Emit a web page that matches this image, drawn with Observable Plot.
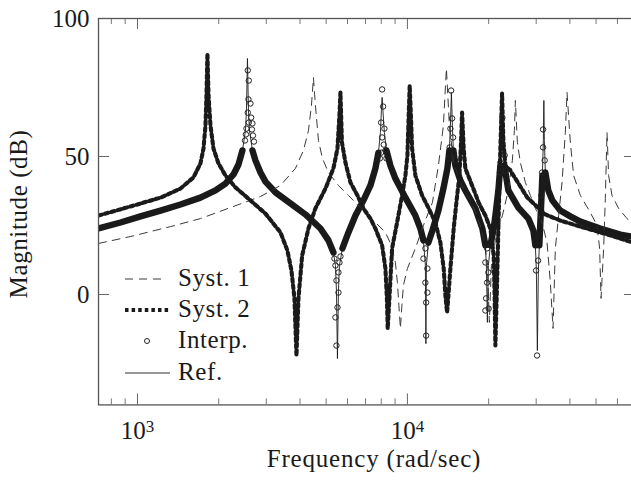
<!DOCTYPE html>
<html><head><meta charset="utf-8">
<script src="https://cdn.jsdelivr.net/npm/d3@7"></script>
<script src="https://cdn.jsdelivr.net/npm/@observablehq/plot@0.6"></script>
<style>
html,body{margin:0;padding:0;background:#fff;overflow:hidden;width:631px;height:480px;}
#chart{position:relative;width:631px;height:480px;overflow:hidden;}
#chart svg{max-width:none !important;}
#legend{position:absolute;left:0;top:0;pointer-events:none;}
svg text{font-family:"Liberation Serif","DejaVu Serif","Times New Roman",Tinos,serif !important;}
</style></head><body><div id="chart"></div>
<script>
// ---- data: [frequency (rad/sec), magnitude (dB)] ----
const refCurve = [[717,23.9],[865,26.1],[1026,28.3],[1217,30.4],[1443,32.6],[1711,35.1],[1945,37.7],[2118,40.2],[2268,43.5],[2367,47.1],[2448,52.2],[2512,59.4],[2533,66.7],[2555,85.5],[2577,66.7],[2599,59.4],[2666,52.2],[2735,48.6],[2855,44.2],[2979,40.9],[3244,37.0],[3687,33.0],[4190,29.0],[4763,23.9],[5099,19.6],[5321,15.2],[5412,10.5],[5459,1.4],[5506,-23.2],[5553,1.4],[5600,10.5],[5745,16.7],[6047,22.5],[6420,28.6],[6873,34.1],[7295,39.5],[7612,45.7],[7810,51.4],[7943,58.7],[8011,66.7],[8060,71.4],[8115,66.7],[8219,58.7],[8361,52.2],[8650,46.7],[9027,42.0],[9831,35.1],[10706,28.6],[11171,23.9],[11463,19.6],[11659,10.5],[11709,-17.8],[11759,10.5],[11962,18.8],[12377,23.2],[13027,30.4],[13595,38.4],[14066,45.7],[14308,52.2],[14431,61.2],[14554,73.2],[14678,61.2],[14804,52.2],[15058,46.7],[15714,41.3],[16397,37.7],[17858,31.2],[18957,23.9],[19449,17.8],[19616,10.5],[19783,-10.1],[19953,10.5],[20296,17.8],[20823,23.2],[21181,28.6],[21729,37.7],[22103,46.7],[22292,55.8],[22483,66.7],[22676,55.8],[22870,46.7],[23664,37.7],[25770,31.5],[28064,27.5],[29286,23.2],[29790,17.8],[30046,8.7],[30304,-20.3],[30563,8.7],[30823,17.8],[31085,26.1],[31352,34.1],[31623,43.1],[31894,55.8],[32030,70.3],[32167,55.8],[32443,44.2],[33281,37.7],[34437,34.1],[36864,30.4],[40149,28.3],[43725,26.4],[51856,23.9],[61482,21.7],[69900,20.7]];

const syst1Curve = [[717,18.5],[942,21.0],[1325,24.6],[1711,27.5],[2210,31.5],[2855,35.5],[3386,39.5],[3848,45.7],[4120,52.2],[4299,59.4],[4411,68.5],[4486,78.6],[4563,68.5],[4682,55.8],[4845,49.3],[5099,44.2],[5553,39.5],[6047,35.9],[6586,32.2],[6991,29.7],[7612,26.1],[8290,22.5],[8724,17.8],[9027,11.6],[9183,4.3],[9300,-4.0],[9421,-12.3],[9541,-4.0],[9664,3.3],[10000,9.4],[10706,16.7],[11463,25.0],[12377,33.3],[13027,46.7],[13595,61.2],[13946,81.9],[14308,61.2],[14804,48.6],[15714,40.6],[17113,34.1],[18321,27.5],[19284,19.6],[19783,10.5],[20124,-10.1],[20471,10.5],[21181,19.6],[22483,28.6],[23664,37.7],[24484,48.6],[24910,59.4],[25119,70.3],[25551,55.1],[26213,47.8],[27355,40.6],[28547,35.9],[29790,31.2],[31543,26.1],[32914,18.8],[33854,4.3],[34642,-12.3],[35325,16.7],[36337,28.6],[37400,40.6],[38471,58.7],[39032,73.2],[40149,55.1],[41299,43.1],[43725,35.9],[47616,29.7],[50414,25.0],[51543,16.7],[52167,-1.4],[53337,16.7],[54117,34.8],[54902,58.7],[55656,43.1],[57293,35.9],[60603,31.2],[65106,27.5],[69900,25.0]];

const syst2Curve = [[717,28.6],[942,31.9],[1217,35.1],[1443,38.4],[1612,42.4],[1711,47.5],[1756,52.9],[1786,61.2],[1801,72.1],[1816,87.3],[1833,72.1],[1864,61.2],[1912,52.9],[1995,47.5],[2118,43.1],[2307,38.8],[2621,34.1],[2979,29.3],[3386,22.5],[3594,15.9],[3719,8.7],[3815,-1.4],[3881,-22.1],[3948,-1.4],[4074,14.1],[4299,23.9],[4563,31.2],[4970,38.4],[5321,45.7],[5506,52.9],[5600,64.9],[5648,73.2],[5721,55.1],[5894,47.8],[6151,40.6],[6530,35.9],[6873,31.2],[7295,27.5],[7612,23.9],[8060,17.8],[8290,9.4],[8396,-1.4],[8454,-12.3],[8577,-1.4],[8776,16.7],[9158,26.1],[9558,35.9],[9831,43.1],[10000,50.4],[10111,64.9],[10198,75.7],[10303,64.9],[10409,52.9],[10706,43.1],[11336,35.9],[11993,31.2],[12698,26.1],[13251,18.8],[13630,9.4],[13828,-0.4],[14030,-6.5],[14187,-0.4],[14431,9.4],[14842,23.9],[15188,33.3],[15582,43.1],[15783,54.0],[15945,65.9],[16164,52.9],[16397,45.7],[17363,39.5],[18368,33.3],[19449,28.6],[20296,23.9],[20878,14.1],[21057,-1.4],[21181,-18.5],[21489,4.3],[21784,28.6],[22103,52.9],[22425,72.8],[22676,55.8],[23066,46.7],[24071,44.9],[27826,35.1],[32443,29.0],[36864,26.8],[43725,24.6],[51856,22.5],[61482,20.3],[69900,18.5]];

const interpPoints = [[2562,81.2],[2584,77.5],[2577,70.7],[2621,69.2],[2562,65.9],[2637,64.1],[2584,62.3],[2666,62.0],[2533,60.1],[2655,59.8],[2522,58.0],[2678,57.6],[2502,55.8],[2701,55.4],
 [5459,-18.5],[5412,-8.3],[5506,-4.7],[5553,0.7],[5459,5.1],[5553,8.0],[5412,10.5],[5600,11.6],[5366,13.0],[5648,13.8],
 [8060,74.3],[8128,68.1],[7991,62.3],[8219,60.1],[8060,56.9],[8170,54.3],[7991,51.4],[8290,52.2],[7910,49.3],[8361,49.3],
 [11730,-14.9],[11730,-2.9],[11860,0.7],[11659,4.3],[11860,9.4],[11463,13.0],[11659,16.7],
 [14517,73.9],[14640,63.8],[14431,60.1],[14766,56.9],[14345,53.3],[14842,51.1],[14248,49.3],[14995,48.6],
 [19733,16.7],[19449,11.6],[19953,8.0],[19733,4.3],[19566,-1.4],[20005,-5.1],[19449,-5.8],
 [22483,64.1],[22425,55.1],[22929,50.4],[22103,47.8],[23066,44.9],[22009,44.2],
 [30226,-22.1],[29970,8.7],[30485,12.3],
 [31812,59.8],[31812,53.3],[32249,48.6],[31543,44.2],[32249,41.3],[31352,35.9]];

const xMajorTicks = [1000, 10000];
const xMinorTicks = [800, 900, 2000, 3000, 4000, 5000, 6000, 7000, 8000, 9000, 20000, 30000, 40000, 50000, 60000];
const yTicks = [0, 50, 100];
const legendLabels = ["Syst. 1", "Syst. 2", "Interp.", "Ref."];
const xLabel = "Frequency (rad/sec)";
const yLabel = "Magnitude (dB)";

// ---- build ----
const toRows = a => a.map(([f, db]) => ({f, db}));
const ref = toRows(refCurve), syst1 = toRows(syst1Curve), syst2 = toRows(syst2Curve), interp = toRows(interpPoints);

const W = 640, H = 480, mL = 98, mR = 5, mT = 18, mB = 75.6;
const innerW = W - mL - mR, innerH = H - mT - mB;
const FONT = "'Liberation Serif', 'DejaVu Serif', serif";
const INK = "#1a1a1a";
const majorLen = 11, minorLen = 6;
const dotted = "3.5,3.1";

const chart = Plot.plot({
  width: W, height: H,
  marginLeft: mL, marginRight: mR, marginTop: mT, marginBottom: mB,
  style: {fontFamily: FONT, fontSize: "25px", color: INK, background: "white", maxWidth: "none"},
  x: {type: "log", domain: [717, 70000], label: null},
  y: {domain: [-40, 100], label: null},
  marks: [
    // interp band (dense circles merge into a thick band)
    Plot.line(ref, {x: "f", y: d => (d.db >= 13 && d.db <= 54) ? d.db : NaN, stroke: INK, strokeWidth: 6.4, strokeLinecap: "round", strokeLinejoin: "round", clip: true}),
    Plot.line(syst1, {x: "f", y: "db", stroke: "#3a3a3a", strokeWidth: 1, strokeDasharray: "8,6", clip: true}),
    Plot.line(syst2, {x: "f", y: "db", stroke: INK, strokeWidth: 4.1, strokeDasharray: dotted, clip: true}),
    Plot.line(ref, {x: "f", y: "db", stroke: INK, strokeWidth: 0.9, clip: true}),
    Plot.dot(interp, {x: "f", y: "db", r: 2.7, stroke: "#222", strokeWidth: 1, fill: "none", clip: true}),
    // inward ticks
    Plot.tickX(xMajorTicks, {x: d => d, insetTop: innerH - majorLen, stroke: "#666"}),
    Plot.tickX(xMajorTicks, {x: d => d, insetBottom: innerH - majorLen, stroke: "#666"}),
    Plot.tickX(xMinorTicks, {x: d => d, insetTop: innerH - minorLen, stroke: "#777"}),
    Plot.tickX(xMinorTicks, {x: d => d, insetBottom: innerH - minorLen, stroke: "#777"}),
    Plot.tickY(yTicks, {y: d => d, insetRight: innerW - majorLen, stroke: "#666"}),
    Plot.tickY(yTicks, {y: d => d, insetLeft: innerW - majorLen, stroke: "#666"}),
    Plot.frame({stroke: "#555", strokeWidth: 1.3}),
    Plot.axisX({ticks: xMajorTicks, label: null, tickSize: 0, tickPadding: 16, fontSize: 25, tickFormat: d => "10^" + Math.round(Math.log10(d))}),
    Plot.axisY({ticks: yTicks, label: null, tickSize: 0, tickPadding: 9, fontSize: 25})
  ]
});

// superscript exponents on the x tick labels
d3.select(chart).selectAll('g[aria-label="x-axis tick label"] text').each(function() {
  const t = d3.select(this);
  const [base, exp] = t.text().split("^");
  t.text(null);
  t.append("tspan").text(base);
  t.append("tspan").attr("dy", "-0.42em").attr("font-size", "17px").text(exp);
});

const holder = document.getElementById("chart");
holder.appendChild(chart);

// overlay: axis titles and legend
const lg = d3.select(holder).append("svg").attr("id", "legend").attr("width", 631).attr("height", 480);
lg.append("text").attr("x", 374).attr("y", 467).attr("text-anchor", "middle")
  .attr("font-size", 25).attr("letter-spacing", "0.8px").attr("fill", INK).text(xLabel);
lg.append("text").attr("transform", "translate(26.5,214) rotate(-90)").attr("text-anchor", "middle")
  .attr("font-size", 25).attr("letter-spacing", "0.6px").attr("fill", INK).text(yLabel);

const rowY = [279, 310, 341, 373];
lg.append("line").attr("x1", 125).attr("x2", 167).attr("y1", rowY[0]).attr("y2", rowY[0]).attr("stroke", "#3a3a3a").attr("stroke-width", 1).attr("stroke-dasharray", "8,6");
lg.append("line").attr("x1", 125).attr("x2", 170).attr("y1", rowY[1]).attr("y2", rowY[1]).attr("stroke", INK).attr("stroke-width", 4.1).attr("stroke-dasharray", dotted);
lg.append("circle").attr("cx", 147).attr("cy", rowY[2]).attr("r", 2.5).attr("fill", "none").attr("stroke", "#222").attr("stroke-width", 1);
lg.append("line").attr("x1", 125).attr("x2", 170).attr("y1", rowY[3]).attr("y2", rowY[3]).attr("stroke", INK).attr("stroke-width", 0.9);
lg.selectAll("text.lab").data(legendLabels).join("text").attr("class", "lab")
  .attr("x", 178).attr("y", (d, i) => rowY[i] + 6.5)
  .attr("font-size", 25).attr("letter-spacing", "0.6px").attr("fill", INK).text(d => d);
</script>
</body></html>
